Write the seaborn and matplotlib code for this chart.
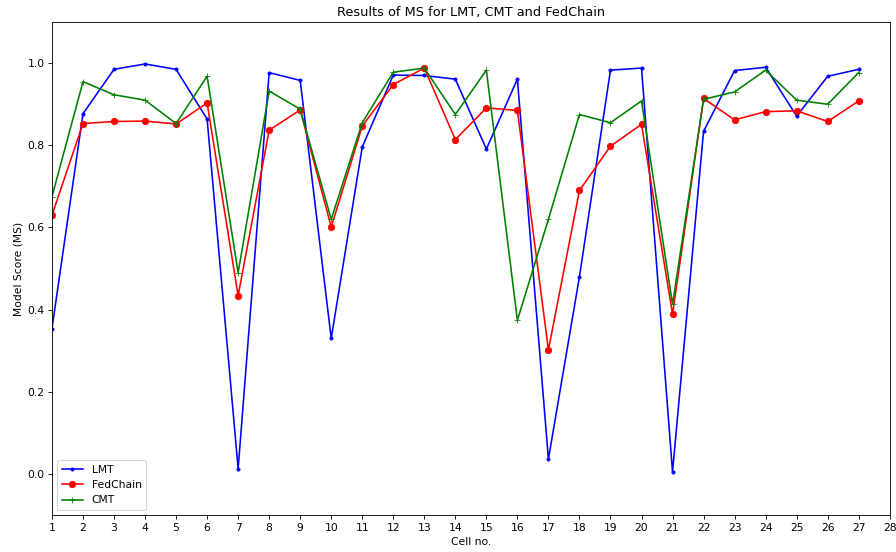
import pandas as pd
import seaborn as sns
import matplotlib
matplotlib.use("Agg")
import matplotlib.pyplot as plt

# Model score per cell for each method
cells = list(range(1, 28))
lmt = [0.354, 0.877, 0.985, 0.998, 0.985, 0.864, 0.013, 0.977, 0.958, 0.330,
       0.796, 0.971, 0.970, 0.961, 0.791, 0.961, 0.036, 0.480, 0.983, 0.988,
       0.005, 0.834, 0.982, 0.990, 0.871, 0.968, 0.985]
fedchain = [0.630, 0.853, 0.858, 0.859, 0.852, 0.903, 0.434, 0.837, 0.886, 0.601,
            0.847, 0.948, 0.988, 0.814, 0.891, 0.885, 0.302, 0.690, 0.798, 0.851,
            0.389, 0.914, 0.862, 0.882, 0.884, 0.858, 0.908]
cmt = [0.675, 0.955, 0.923, 0.910, 0.853, 0.968, 0.490, 0.932, 0.888, 0.620,
       0.855, 0.978, 0.988, 0.875, 0.983, 0.374, 0.620, 0.875, 0.855, 0.908,
       0.413, 0.912, 0.930, 0.983, 0.910, 0.900, 0.977]

df = pd.DataFrame({"Cell": cells, "LMT": lmt, "FedChain": fedchain, "CMT": cmt})

# original looks like a bigger figure scaled down, so render at lower dpi
dpi = 77
fig, ax = plt.subplots(figsize=(896 / dpi, 552 / dpi), dpi=dpi)
sns.lineplot(data=df, x="Cell", y="LMT", marker=".", color="blue", label="LMT",
             markeredgecolor="blue", ax=ax)
sns.lineplot(data=df, x="Cell", y="FedChain", marker="o", color="red", label="FedChain",
             markeredgecolor="red", markersize=6, ax=ax)
sns.lineplot(data=df, x="Cell", y="CMT", marker="+", color="green", label="CMT",
             markeredgecolor="green", markersize=6, ax=ax)

ax.set_xlim(1, 28)
ax.set_ylim(-0.1, 1.1)
ax.set_xticks(range(1, 29))
ax.set_title("Results of MS for LMT, CMT and FedChain")
ax.set_xlabel("Cell no.")
ax.set_ylabel("Model Score (MS)")
ax.legend(loc="lower left")

fig.subplots_adjust(left=0.058, right=0.993, top=0.96, bottom=0.067)
fig.savefig("out.png", dpi=dpi)
